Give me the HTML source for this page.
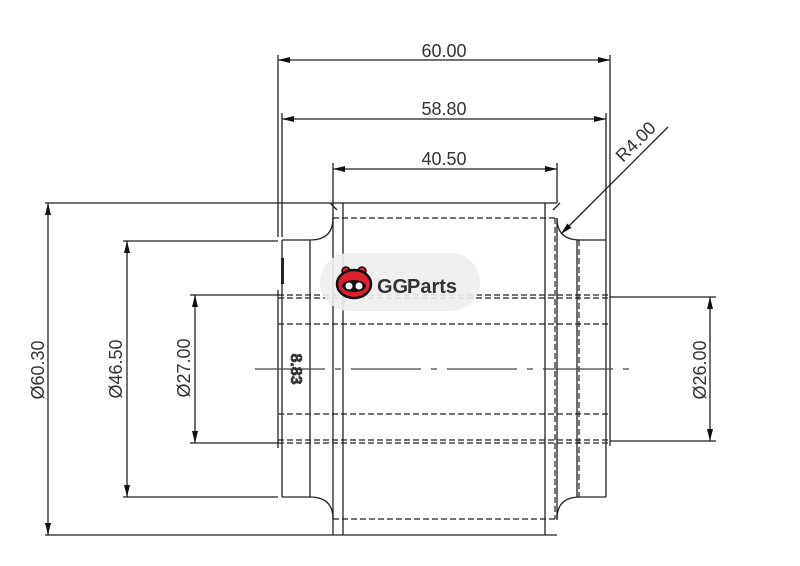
<!DOCTYPE html>
<html><head><meta charset="utf-8"><style>
html,body{margin:0;padding:0;background:#fff;}
svg{display:block;}
text{font-family:"Liberation Sans",sans-serif;fill:#333;}
</style></head><body>
<svg width="800" height="566" viewBox="0 0 800 566" xmlns="http://www.w3.org/2000/svg">
<defs>
<marker id="a" viewBox="0 0 12 6" refX="12" refY="3" markerWidth="12" markerHeight="6" orient="auto-start-reverse" markerUnits="userSpaceOnUse"><path d="M0,0 L12,3 L0,6 z" fill="#111"/></marker>
</defs>
<g stroke="#222" stroke-width="1.3" fill="none">
<line x1="278" y1="55" x2="278" y2="237"/>
<line x1="282" y1="113" x2="282" y2="237"/>
<line x1="278" y1="290" x2="278" y2="448"/>
<line x1="282" y1="240" x2="282" y2="497"/>
<line x1="610" y1="55" x2="610" y2="290"/>
<line x1="606" y1="113" x2="606" y2="240"/>
<line x1="333" y1="163" x2="333" y2="203"/>
<line x1="557" y1="163" x2="557" y2="203"/>
<line x1="45" y1="203" x2="333" y2="203"/>
<line x1="45" y1="535" x2="333" y2="535"/>
<line x1="123" y1="241" x2="278" y2="241"/>
<line x1="123" y1="497" x2="278" y2="497"/>
<line x1="190" y1="295" x2="278" y2="295"/>
<line x1="190" y1="443" x2="278" y2="443"/>
<line x1="610" y1="297" x2="716" y2="297"/>
<line x1="610" y1="441" x2="716" y2="441"/>
<line x1="278" y1="60" x2="610" y2="60" marker-start="url(#a)" marker-end="url(#a)"/>
<line x1="282" y1="119" x2="606" y2="119" marker-start="url(#a)" marker-end="url(#a)"/>
<line x1="333" y1="169" x2="557" y2="169" marker-start="url(#a)" marker-end="url(#a)"/>
<line x1="48" y1="203" x2="48" y2="535" marker-start="url(#a)" marker-end="url(#a)"/>
<line x1="127" y1="241" x2="127" y2="497" marker-start="url(#a)" marker-end="url(#a)"/>
<line x1="195" y1="295" x2="195" y2="443" marker-start="url(#a)" marker-end="url(#a)"/>
<line x1="710" y1="297" x2="710" y2="441" marker-start="url(#a)" marker-end="url(#a)"/>
<line x1="668" y1="127" x2="561" y2="234" marker-end="url(#a)"/>
<line x1="333" y1="203" x2="557" y2="203"/>
<line x1="333" y1="535" x2="557" y2="535"/>
<line x1="343" y1="203" x2="343" y2="535"/>
<line x1="545" y1="203" x2="545" y2="535"/>
<line x1="333" y1="203" x2="333" y2="535"/>
<line x1="557" y1="218" x2="557" y2="520"/>
<path d="M310,240 Q333,240 333,218 M310,497 Q333,497 333,519 M580,240 Q557,240 557,218 M580,497 Q557,497 557,519"/>
<line x1="282" y1="240" x2="310" y2="240"/>
<line x1="282" y1="497" x2="310" y2="497"/>
<line x1="310" y1="240" x2="310" y2="497"/>
<line x1="580" y1="240" x2="606" y2="240"/>
<line x1="580" y1="497" x2="606" y2="497"/>
<line x1="577" y1="240" x2="577" y2="497"/>
<line x1="606" y1="240" x2="606" y2="497"/>
<line x1="610" y1="290" x2="610" y2="446"/>
<path d="M330,203 L337,210 M560,203 L553,210"/>
</g>
<g stroke="#222" stroke-width="1.2" stroke-dasharray="6,3" fill="none">
<line x1="333" y1="218" x2="557" y2="218"/>
<line x1="333" y1="519" x2="557" y2="519"/>
<line x1="555" y1="218" x2="555" y2="519"/>
<line x1="579" y1="240" x2="579" y2="497"/>
<line x1="278" y1="295" x2="610" y2="295"/>
<line x1="278" y1="298" x2="610" y2="298"/>
<line x1="278" y1="324" x2="610" y2="324"/>
<line x1="278" y1="414" x2="610" y2="414"/>
<line x1="278" y1="440" x2="610" y2="440"/>
<line x1="278" y1="443" x2="610" y2="443"/>
</g>
<line x1="255" y1="369" x2="632" y2="369" stroke="#444" stroke-width="1.2" stroke-dasharray="70,10,6,10"/>
<rect x="281" y="258" width="3" height="26" fill="#222"/>
<text x="444" y="57" font-size="18" text-anchor="middle">60.00</text>
<text x="444" y="115" font-size="18" text-anchor="middle">58.80</text>
<text x="444" y="165" font-size="18" text-anchor="middle">40.50</text>
<text transform="translate(44,370) rotate(-90)" font-size="18" text-anchor="middle">Ø60.30</text>
<text transform="translate(122,369) rotate(-90)" font-size="18" text-anchor="middle">Ø46.50</text>
<text transform="translate(190,368) rotate(-90)" font-size="18" text-anchor="middle">Ø27.00</text>
<text transform="translate(706,370) rotate(-90)" font-size="18" text-anchor="middle">Ø26.00</text>
<text transform="translate(640,146) rotate(-45)" font-size="18" text-anchor="middle">R4.00</text>
<text transform="translate(291,369) rotate(90)" font-size="16" font-weight="bold" text-anchor="middle" fill="none" stroke="#333" stroke-width="1" stroke-dasharray="2,1">8.83</text>
<rect x="320" y="253" width="160" height="58" rx="29" fill="#eee" opacity="0.9"/>
<g transform="translate(354,284)">
<circle cx="-8" cy="-13" r="4" fill="#e02030" stroke="#111" stroke-width="1.5"/>
<circle cx="8" cy="-13" r="4" fill="#e02030" stroke="#111" stroke-width="1.5"/>
<ellipse cx="0" cy="0" rx="17" ry="14" fill="#e02030" stroke="#111" stroke-width="2.5"/>
<ellipse cx="0" cy="2" rx="12" ry="6" fill="#111"/>
<circle cx="-5" cy="2" r="3.5" fill="#fff"/><circle cx="5" cy="2" r="3.5" fill="#fff"/>
</g>
<text x="377" y="293" font-size="20" font-weight="bold" fill="#e02030">GG</text>
<text x="407" y="293" font-size="20" font-weight="bold" fill="#111">Parts</text>
</svg>
</body></html>
